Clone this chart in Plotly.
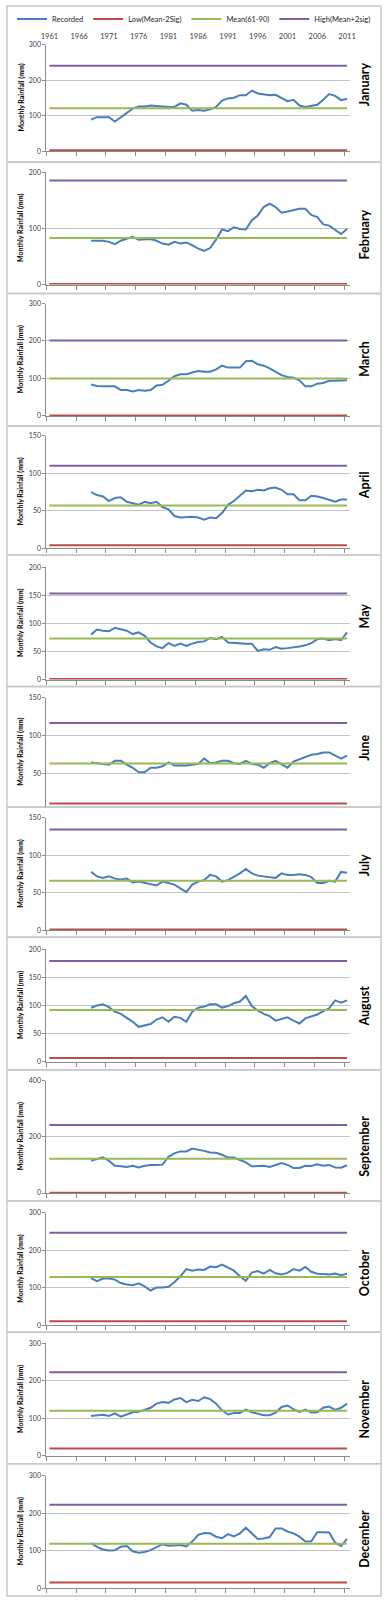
import plotly.graph_objects as go

# ---------------- data ----------------
YEARS_ALL = list(range(1961, 2012))          # categories on the axis
YEARS_REC = list(range(1968, 2012))          # years with recorded values
TICK_YEARS = [1961, 1966, 1971, 1976, 1981, 1986, 1991, 1996, 2001, 2006, 2011]

MONTHS = ["January", "February", "March", "April", "May", "June", "July",
          "August", "September", "October", "November", "December"]

JAN = [89, 96, 96, 96, 84, 96, 110, 120, 126, 126, 129, 127, 125, 125, 125, 135, 131,
       114, 116, 114, 118, 125, 143, 149, 151, 158, 158, 171, 163, 160, 158, 159, 151,
       141, 145, 129, 125, 127, 131, 145, 161, 156, 144, 148]
FEB = [78, 78, 78, 76, 72, 78, 82, 85, 80, 80, 81, 78, 73, 71, 76, 73, 75, 70, 64, 60,
       65, 80, 98, 95, 102, 99, 98, 114, 123, 138, 144, 138, 128, 130, 133, 135, 135,
       124, 120, 107, 105, 98, 90, 99]
MAR = [84, 80, 79, 78, 79, 69, 69, 65, 69, 67, 69, 81, 83, 94, 106, 111, 111, 116, 120,
       118, 118, 124, 134, 129, 129, 129, 146, 147, 138, 134, 127, 118, 109, 104, 102, 95,
       79, 79, 86, 88, 94, 94, 94, 95]
APR = [75, 71, 69, 63, 67, 68, 62, 60, 58, 62, 60, 62, 55, 52, 43, 41, 42, 42, 41, 38,
       41, 40, 47, 58, 63, 70, 77, 76, 78, 77, 80, 81, 78, 72, 72, 64, 64, 70, 69, 67,
       64, 62, 65, 65]
MAY = [80, 89, 87, 86, 92, 90, 87, 81, 84, 78, 66, 59, 56, 65, 60, 64, 60, 64, 67, 68,
       74, 72, 76, 66, 65, 64, 64, 64, 51, 54, 53, 58, 55, 56, 57, 59, 61, 65, 72, 73,
       70, 72, 70, 84]
JUN = [65, 64, 63, 62, 67, 67, 62, 58, 52, 52, 58, 58, 60, 65, 61, 61, 61, 62, 63, 70,
       64, 65, 67, 67, 64, 63, 67, 63, 62, 58, 64, 67, 63, 58, 66, 69, 71, 75, 76, 78,
       78, 74, 70, 74]
JUL = [78, 72, 70, 72, 69, 68, 69, 64, 65, 63, 61, 60, 65, 63, 61, 56, 51, 61, 65, 67,
       74, 72, 65, 67, 71, 76, 82, 76, 73, 72, 71, 70, 76, 74, 74, 75, 74, 71, 63, 63,
       66, 65, 78, 77]
AUG = [96, 100, 102, 97, 89, 85, 78, 71, 62, 64, 67, 75, 79, 71, 80, 78, 71, 89, 96, 98,
       102, 102, 96, 99, 104, 107, 117, 99, 91, 85, 81, 73, 76, 79, 73, 68, 77, 81, 84,
       90, 95, 109, 105, 109]
SEP = [115, 121, 127, 115, 97, 95, 93, 97, 91, 97, 100, 100, 101, 129, 141, 148, 148,
       158, 155, 150, 144, 143, 136, 126, 126, 118, 109, 95, 97, 97, 93, 100, 107, 100,
       89, 89, 97, 96, 102, 97, 100, 91, 90, 99]
OCT = [126, 118, 125, 125, 122, 113, 109, 107, 112, 104, 93, 101, 101, 103, 115, 131,
       150, 146, 149, 148, 157, 155, 162, 154, 146, 131, 119, 141, 145, 138, 148, 139,
       136, 140, 150, 146, 156, 143, 138, 137, 136, 138, 134, 138]
NOV = [106, 108, 109, 106, 113, 104, 110, 116, 117, 122, 128, 139, 143, 141, 150, 154,
       143, 149, 146, 156, 151, 139, 121, 110, 114, 114, 123, 116, 113, 108, 108, 115,
       130, 134, 124, 117, 123, 115, 116, 128, 131, 122, 128, 139]
DEC = [120, 110, 103, 100, 101, 110, 112, 98, 94, 96, 101, 109, 117, 113, 115, 115, 111,
       124, 142, 147, 146, 137, 133, 144, 138, 146, 161, 146, 131, 132, 136, 159, 159,
       151, 146, 137, 124, 125, 149, 149, 148, 121, 112, 131]
RECORDED = [JAN, FEB, MAR, APR, MAY, JUN, JUL, AUG, SEP, OCT, NOV, DEC]

LOW = [3, 1, 1, 4, 1, 11, 1, 6.5, 1, 11, 19, 15]
MEAN = [121, 83, 100, 57, 73, 63.5, 66, 92, 122, 129, 120, 118]
HIGH = [241, 185, 201, 110, 153, 116.5, 134.5, 179, 242, 247, 223, 222]

# axis settings
Y_MIN = [0, 0, 0, 0, 0, 6.6, 0, 0, 0, 0, 0, 0]
Y_MAX = [300, 200, 300, 150, 200, 150, 150, 200, 400, 300, 300, 300]
Y_DTICK = [100, 100, 100, 50, 50, 50, 50, 50, 200, 100, 100, 100]

# ---------------- geometry / style ----------------
W, H = 388, 1600
PLOT_TOP = [40, 168, 300, 433, 565, 696, 817, 949, 1081, 1214, 1345, 1478]
PLOT_BOT = [147, 281, 413, 546, 678, 806, 930, 1062, 1194, 1327, 1458, 1591]
MONTH_Y = [80, 231, 356, 483, 614, 747, 865, 1006, 1147, 1274, 1411, 1542]
BORDERS = [1, 158, 290, 423, 553, 685, 806, 937, 1070, 1202, 1334, 1466, 1599]
X_LEFT, X_RIGHT = 41.7, 355.0

BLUE, RED, GREEN, PURPLE = "#4A7EBB", "#BE4B48", "#98B954", "#7D60A0"
AXC, GRIDC, TXT = "#8C8C8C", "#C4C4C4", "#404040"
FONT = "Lato"


def py(p):
    return 1 - p / H


def px(p):
    return p / W


fig = go.Figure()
layout = {}
annotations = []
shapes = []

for i, month in enumerate(MONTHS):
    n = i + 1
    xa = "x" if n == 1 else f"x{n}"
    ya = "y" if n == 1 else f"y{n}"
    xkey = "xaxis" if n == 1 else f"xaxis{n}"
    ykey = "yaxis" if n == 1 else f"yaxis{n}"

    fig.add_trace(go.Scatter(x=YEARS_REC, y=RECORDED[i], mode="lines", name="Recorded",
                             line=dict(color=BLUE, width=2), xaxis=xa, yaxis=ya,
                             legendgroup="rec", showlegend=(n == 1)))
    for name, val, col, grp in [("Low(Mean-2Sig)", LOW[i], RED, "low"),
                                ("Mean(61-90)", MEAN[i], GREEN, "mean"),
                                ("High(Mean+2sig)", HIGH[i], PURPLE, "high")]:
        fig.add_trace(go.Scatter(x=YEARS_ALL, y=[val] * len(YEARS_ALL), mode="lines",
                                 name=name, line=dict(color=col, width=2),
                                 xaxis=xa, yaxis=ya, legendgroup=grp,
                                 showlegend=(n == 1)))

    cropped = (month == "June")
    layout[xkey] = dict(domain=[px(X_LEFT), px(X_RIGHT)], range=[1960.5, 2011.5],
                        anchor=ya, tickmode="array",
                        tickvals=[y - 0.5 for y in TICK_YEARS],
                        ticks="" if cropped else "outside", ticklen=4, tickcolor=AXC,
                        showticklabels=False, showline=not cropped, linecolor=AXC,
                        linewidth=1, showgrid=False, zeroline=False)
    layout[ykey] = dict(domain=[py(PLOT_BOT[i]), py(PLOT_TOP[i])],
                        range=[Y_MIN[i], Y_MAX[i]], tick0=0, dtick=Y_DTICK[i],
                        anchor=xa, ticks="outside", ticklen=3, tickcolor=AXC,
                        showline=True, linecolor=AXC, linewidth=1,
                        showgrid=True, gridcolor=GRIDC, gridwidth=1, zeroline=False,
                        tickfont=dict(family=FONT, size=7, color=TXT))

    annotations.append(dict(text="Monthly Rainfall (mm)", xref="paper", yref="paper",
                            x=px(15), y=py((PLOT_TOP[i] + PLOT_BOT[i]) / 2),
                            xanchor="center", yanchor="middle", textangle=-90,
                            showarrow=False,
                            font=dict(family=FONT, size=7, color="#000000", weight="bold")))
    annotations.append(dict(text=month, xref="paper", yref="paper",
                            x=px(370), y=py(MONTH_Y[i]), xanchor="center",
                            yanchor="middle", textangle=-90, showarrow=False,
                            font=dict(family=FONT, size=12.5, color="#000000", weight="bold")))
    shapes.append(dict(type="rect", xref="paper", yref="paper",
                       x0=px(1), x1=px(387), y0=py(BORDERS[i]), y1=py(BORDERS[i + 1]),
                       line=dict(color="#C8C8C8", width=1.5), fillcolor="rgba(0,0,0,0)",
                       layer="below"))

# year labels along the top of the first panel
fig.add_trace(go.Scatter(x=[], y=[], xaxis="x13", yaxis="y", showlegend=False,
                         hoverinfo="skip"))
layout["xaxis13"] = dict(overlaying="x", side="top", anchor="y", range=[1960.5, 2011.5],
                         tickmode="array", tickvals=TICK_YEARS,
                         ticktext=[str(y) for y in TICK_YEARS], ticks="",
                         showline=False, showgrid=False, zeroline=False,
                         ticklabelstandoff=3,
                         tickfont=dict(family=FONT, size=7.5, color=TXT))

fig.update_layout(**layout)
fig.update_layout(
    width=W, height=H, margin=dict(l=0, r=0, t=0, b=0),
    paper_bgcolor="white", plot_bgcolor="white",
    font=dict(family=FONT, color=TXT),
    showlegend=True,
    legend=dict(orientation="h", x=0.5, xanchor="center", y=py(14), yanchor="middle",
                font=dict(family=FONT, size=7.5, color="#262626"),
                bgcolor="rgba(0,0,0,0)", tracegroupgap=0),
    annotations=annotations, shapes=shapes,
)

fig.write_html("out.html",
               config={"displayModeBar": False},
               post_script="document.body.style.margin='0px';"
                           "document.body.style.overflow='hidden';")
